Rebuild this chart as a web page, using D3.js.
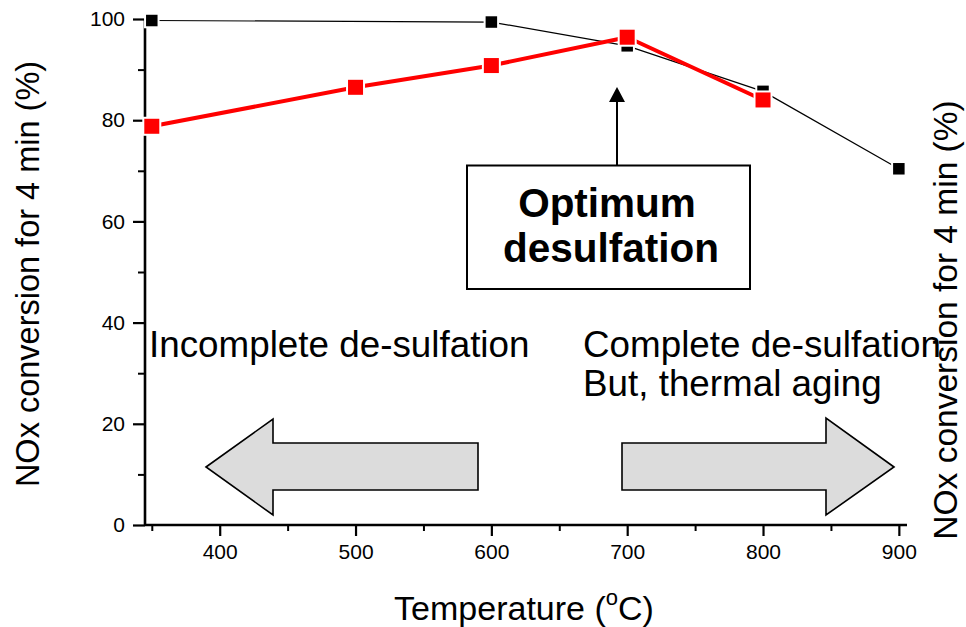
<!DOCTYPE html>
<html>
<head>
<meta charset="utf-8">
<script src="https://cdn.jsdelivr.net/npm/d3@7"></script>
<style>
  html, body { margin: 0; padding: 0; background: #fff; }
  svg { display: block; font-family: "Liberation Sans", Arial, sans-serif; }
</style>
</head>
<body>
<svg id="chart" width="966" height="627"></svg>
<script>
// Desulfation temperature (°C)
const temperatureBlack = [350, 600, 700, 800, 900];
const conversionBlack  = [99.7, 99.4, 94.7, 85.7, 70.4];
const temperatureRed   = [350, 500, 600, 700, 800];
const conversionRed    = [78.8, 86.5, 90.8, 96.4, 84.0];

const xTicks = [400, 500, 600, 700, 800, 900];
const yTicks = [0, 20, 40, 60, 80, 100];
const xMinorTicks = [350, 450, 550, 650, 750, 850];
const yMinorTicks = [10, 30, 50, 70, 90];

const svg = d3.select("#chart");

const x = d3.scaleLinear().domain([345, 906]).range([145, 907]);
const y = d3.scaleLinear().domain([0, 100]).range([525, 19]);

// ---- axes ----
const axisG = svg.append("g");

const xAxis = d3.axisBottom(x).tickValues(xTicks).tickSizeInner(11).tickSizeOuter(0).tickPadding(8);
const gx = axisG.append("g").attr("transform", `translate(0,${y(0)})`).call(xAxis);
gx.select(".domain").attr("stroke-width", 2.6).attr("d", `M${x.range()[0]},0H${x.range()[1]}`);
gx.selectAll(".tick line").attr("stroke-width", 2.2);
gx.selectAll(".tick text").attr("font-size", 21).attr("fill", "#000")
  .attr("font-family", "'Liberation Sans', Arial, sans-serif");
axisG.append("g").attr("transform", `translate(0,${y(0)})`)
  .call(d3.axisBottom(x).tickValues(xMinorTicks).tickSize(6).tickFormat(""))
  .call(g => g.select(".domain").remove())
  .selectAll("line").attr("stroke-width", 2);

const yAxis = d3.axisLeft(y).tickValues(yTicks).tickSizeInner(12).tickSizeOuter(0).tickPadding(8);
const gy = axisG.append("g").attr("transform", `translate(${x(345)},0)`).call(yAxis);
gy.select(".domain").attr("stroke-width", 2.6).attr("d", `M0,${y(0) + 1}V${y(100)}`);
gy.selectAll(".tick line").attr("stroke-width", 2.2);
gy.selectAll(".tick text").attr("font-size", 21).attr("fill", "#000")
  .attr("font-family", "'Liberation Sans', Arial, sans-serif");
axisG.append("g").attr("transform", `translate(${x(345)},0)`)
  .call(d3.axisLeft(y).tickValues(yMinorTicks).tickSize(7).tickFormat(""))
  .call(g => g.select(".domain").remove())
  .selectAll("line").attr("stroke-width", 2);

// ---- axis titles ----
const xt = svg.append("text").attr("x", 524).attr("y", 620)
  .attr("text-anchor", "middle").attr("font-size", 34);
xt.append("tspan").text("Temperature (");
xt.append("tspan").attr("font-size", 22).attr("dy", -15).text("o");
xt.append("tspan").attr("dy", 15).text("C)");

svg.append("text")
  .attr("transform", "translate(39,274) rotate(-90)")
  .attr("text-anchor", "middle").attr("font-size", 32.5)
  .text("NOx conversion for 4 min (%)");
svg.append("text")
  .attr("transform", "translate(957,320) rotate(-90)")
  .attr("text-anchor", "middle").attr("font-size", 33.5)
  .text("NOx conversion for 4 min (%)");

// ---- series ----
const blackPts = temperatureBlack.map((t, i) => [t, conversionBlack[i]]);
const redPts = temperatureRed.map((t, i) => [t, conversionRed[i]]);
const line = d3.line().x(d => x(d[0])).y(d => y(d[1]));

function drawSeries(pts, color, lw, size) {
  svg.append("path").datum(pts).attr("d", line)
    .attr("fill", "none").attr("stroke", color).attr("stroke-width", lw)
    .attr("stroke-linejoin", "round");
  const g = svg.append("g");
  // white halo leaves a small gap between line and marker
  g.selectAll("rect.halo").data(pts).join("rect").attr("class", "halo")
    .attr("x", d => x(d[0]) - size / 2 - 2).attr("y", d => y(d[1]) - size / 2 - 2)
    .attr("width", size + 4).attr("height", size + 4).attr("fill", "#fff");
  g.selectAll("rect.mk").data(pts).join("rect").attr("class", "mk")
    .attr("x", d => x(d[0]) - size / 2).attr("y", d => y(d[1]) - size / 2)
    .attr("width", size).attr("height", size).attr("fill", color);
}
drawSeries(blackPts, "#000", 1.2, 11.5);
drawSeries(redPts, "#ff0000", 4, 15);

// ---- annotations ----
svg.append("text").attr("x", 149).attr("y", 357).attr("font-size", 36.8)
  .text("Incomplete de-sulfation");
svg.append("text").attr("x", 583).attr("y", 357).attr("font-size", 36.8)
  .text("Complete de-sulfation");
svg.append("text").attr("x", 583).attr("y", 396).attr("font-size", 36.8)
  .text("But, thermal aging");

// optimum box with arrow pointing up
svg.append("rect").attr("x", 467).attr("y", 165.5).attr("width", 283).attr("height", 123.5)
  .attr("fill", "#fff").attr("stroke", "#000").attr("stroke-width", 2);
svg.append("line").attr("x1", 617).attr("x2", 617).attr("y1", 165).attr("y2", 100)
  .attr("stroke", "#000").attr("stroke-width", 2);
svg.append("path").attr("d", "M617,87L625,102L609,102Z").attr("fill", "#000");
svg.append("text").attr("x", 607).attr("y", 217).attr("text-anchor", "middle")
  .attr("font-size", 40.5).attr("font-weight", "bold").text("Optimum");
svg.append("text").attr("x", 611).attr("y", 262).attr("text-anchor", "middle")
  .attr("font-size", 40.5).attr("font-weight", "bold").text("desulfation");

// block arrows
svg.append("path")
  .attr("d", "M206,467L273,419L273,443L478,443L478,490L273,490L273,515Z")
  .attr("fill", "#dcdcdc").attr("stroke", "#000").attr("stroke-width", 1.6)
  .attr("stroke-linejoin", "miter");
svg.append("path")
  .attr("d", "M894,467L826,418L826,443L622,443L622,490L826,490L826,515Z")
  .attr("fill", "#dcdcdc").attr("stroke", "#000").attr("stroke-width", 1.6)
  .attr("stroke-linejoin", "miter");
</script>
</body>
</html>
